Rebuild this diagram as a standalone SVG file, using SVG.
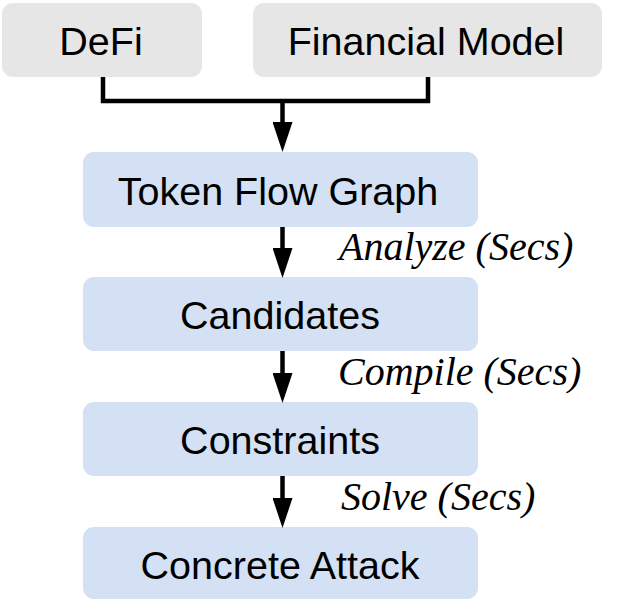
<svg xmlns="http://www.w3.org/2000/svg" width="635" height="600" viewBox="0 0 635 600">
<style>
.src rect{fill:#e6e6e6;}
.step rect{fill:#d4e1f4;}
.lbl{font-family:"Liberation Sans",Arial,sans-serif;font-size:39.5px;fill:#000;text-anchor:middle;}
.note{font-family:"Liberation Serif","Times New Roman",serif;font-style:italic;font-size:40px;fill:#000;}
.conn{fill:none;stroke:#000;stroke-width:4.5;}
</style>
<defs>
<marker id="ah" markerUnits="userSpaceOnUse" markerWidth="30" markerHeight="20" refX="8" refY="10" orient="auto" viewBox="0 0 30 20">
<path d="M0,0 L30,10 L0,20 z" fill="#000"/>
</marker>
</defs>
<rect width="635" height="600" fill="#fff"/>
<g id="node-defi" class="src"><rect x="2" y="3" width="200" height="74" rx="11"/><text class="lbl" x="101" y="55">DeFi</text></g>
<g id="node-financial-model" class="src"><rect x="253" y="3" width="349" height="74" rx="11"/><text class="lbl" x="426" y="55">Financial Model</text></g>
<g id="node-token-flow-graph" class="step"><rect x="83" y="152" width="395" height="75" rx="11"/><text class="lbl" x="278" y="205">Token Flow Graph</text></g>
<g id="node-candidates" class="step"><rect x="83" y="277" width="395" height="74" rx="11"/><text class="lbl" x="280" y="329">Candidates</text></g>
<g id="node-constraints" class="step"><rect x="83" y="402" width="395" height="74" rx="11"/><text class="lbl" x="280" y="454">Constraints</text></g>
<g id="node-concrete-attack" class="step"><rect x="83" y="527" width="395" height="72" rx="11"/><text class="lbl" x="280" y="579">Concrete Attack</text></g>
<g id="connectors">
<path class="conn" d="M103,77 V101 H428 V77"/>
<path class="conn" d="M282.5,101 V130" marker-end="url(#ah)"/>
<path class="conn" d="M282.5,227 V256" marker-end="url(#ah)"/>
<path class="conn" d="M282.5,351 V381" marker-end="url(#ah)"/>
<path class="conn" d="M282.5,476 V506" marker-end="url(#ah)"/>
<text class="note" x="339" y="260">Analyze (Secs)</text>
<text class="note" x="338" y="385">Compile (Secs)</text>
<text class="note" x="341" y="510">Solve (Secs)</text>
</g>
</svg>
